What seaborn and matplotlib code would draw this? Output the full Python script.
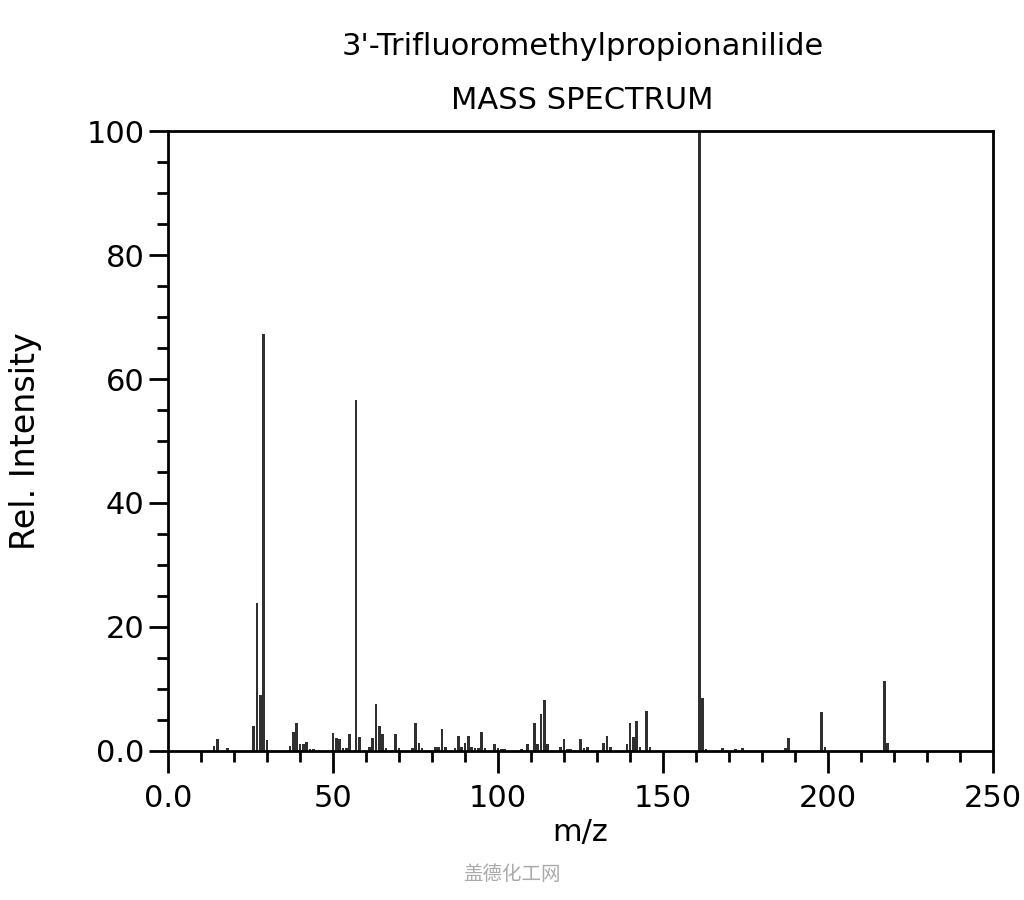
import numpy as np
import pandas as pd
import matplotlib
matplotlib.use("Agg")
import matplotlib.pyplot as plt
from matplotlib.ticker import MultipleLocator, FixedLocator, FixedFormatter
import seaborn as sns

# stick spectrum peaks (m/z, relative intensity)
mz = [14, 15, 18, 26, 27, 28, 29, 30, 37, 38, 39, 40, 41, 42, 43, 44,
      50, 51, 52, 53, 54, 55, 57, 58, 61, 62, 63, 64, 65, 66, 69, 70,
      74, 75, 76, 77, 81, 82, 83, 84, 87, 88, 89, 90, 91, 92, 93, 94,
      95, 96, 99, 100, 101, 102, 107, 109, 111, 112, 113, 114, 115,
      119, 120, 121, 122, 125, 126, 127, 132, 133, 134, 139, 140, 141,
      142, 143, 145, 146, 161, 162, 163, 168, 172, 174, 187, 188, 198,
      199, 217, 218]
intensity = [0.7, 1.8, 0.4, 4.0, 23.8, 9.0, 67.3, 1.7, 0.8, 3.0, 4.4, 1.0, 1.0, 1.4, 0.3, 0.3,
             2.8, 2.0, 1.8, 0.4, 0.4, 2.7, 56.6, 2.2, 0.6, 2.0, 7.5, 4.0, 2.7, 0.4, 2.7, 0.4,
             0.4, 4.4, 1.2, 0.4, 0.6, 0.6, 3.5, 0.6, 0.4, 2.4, 0.6, 1.2, 2.4, 0.6, 0.4, 0.4,
             3.0, 0.4, 1.0, 0.5, 0.3, 0.3, 0.2, 1.0, 4.5, 1.0, 5.9, 8.2, 1.0,
             0.6, 1.9, 0.3, 0.3, 1.9, 0.4, 0.6, 1.2, 2.4, 0.6, 1.1, 4.5, 2.2,
             4.7, 0.6, 6.4, 0.6, 100.0, 8.5, 0.3, 0.5, 0.2, 0.4, 0.4, 2.0, 6.3,
             0.6, 11.3, 1.2]

x_ticks = [0, 50, 100, 150, 200, 250]
x_labels = ["0.0", "50", "100", "150", "200", "250"]
y_ticks = [0, 20, 40, 60, 80, 100]
y_labels = ["0.0", "20", "40", "60", "80", "100"]

df = pd.DataFrame({"mz": mz, "intensity": intensity})

sns.set_theme(style="ticks")
plt.rcParams["font.family"] = ["DejaVu Sans", "Noto Sans CJK SC"]
plt.rcParams["text.color"] = "black"
plt.rcParams["axes.labelcolor"] = "black"
plt.rcParams["xtick.color"] = "black"
plt.rcParams["ytick.color"] = "black"

fig = plt.figure(figsize=(10.24, 9.0), dpi=100)
ax = fig.add_axes([0.164, 0.166, 0.806, 0.688])

sns.barplot(data=df, x="mz", y="intensity", native_scale=True, width=0.8,
            color="#303030", saturation=1, edgecolor="none", ax=ax)

ax.set_xlim(0, 250)
ax.set_ylim(0, 100)

ax.xaxis.set_major_locator(FixedLocator(x_ticks))
ax.xaxis.set_major_formatter(FixedFormatter(x_labels))
ax.xaxis.set_minor_locator(MultipleLocator(10))
ax.yaxis.set_major_locator(FixedLocator(y_ticks))
ax.yaxis.set_major_formatter(FixedFormatter(y_labels))
ax.yaxis.set_minor_locator(MultipleLocator(5))

ax.tick_params(axis="both", which="major", direction="out", length=16, width=2,
               labelsize=22)
ax.tick_params(axis="x", which="major", pad=8)
ax.tick_params(axis="y", which="major", length=14, pad=3)
ax.tick_params(axis="both", which="minor", direction="out", length=8, width=2)
for side in ["left", "right", "top", "bottom"]:
    ax.spines[side].set_visible(True)
    ax.spines[side].set_linewidth(2)
    ax.spines[side].set_color("black")

ax.set_xlabel("m/z", fontsize=22, labelpad=4)
ax.set_ylabel("Rel. Intensity", fontsize=24)
ax.yaxis.set_label_coords(-0.153, 0.5)

fig.text(0.569, 0.948, "3'-Trifluoromethylpropionanilide", ha="center",
         va="center", fontsize=22)
fig.text(0.569, 0.888, "MASS SPECTRUM", ha="center", va="center", fontsize=22)

# site watermark
fig.text(0.5, 0.028, "盖德化工网", ha="center", va="center", fontsize=14,
         color="#aaaaaa", family=["Noto Sans CJK SC", "DejaVu Sans"])

fig.savefig("out.png", dpi=100)
